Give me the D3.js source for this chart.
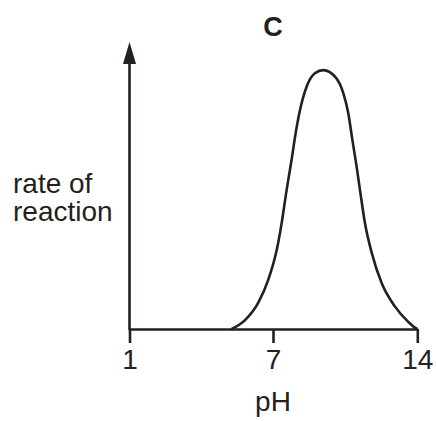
<!DOCTYPE html>
<meta charset="utf-8">
<script src="https://d3js.org/d3.v7.min.js"></script>
<style>
  body { margin: 0; background: #fff; }
  text { font-family: "Liberation Sans", Arial, sans-serif; fill: #231f20; }
</style>
<div class="chart"></div>
<script>
  const width = 436, height = 421;

  // pH ticks (axis is not linear: 7 sits in the middle)
  const tickValues = [1, 7, 14];
  const tickLabels = ["1", "7", "14"];

  // curve C (pH, rate in arbitrary units 0-10)
  const pH =   [5.27, 5.83, 6.38, 6.80, 7.18, 7.42, 7.66, 7.90, 8.10, 8.31, 8.63, 9.03, 9.44,
                10.01, 10.41, 10.65, 10.85, 11.06, 11.22, 11.46, 11.79, 12.27, 12.92, 13.56, 13.88, 14];
  const rate = [0, 0.31, 0.91, 1.71, 2.75, 3.69, 4.84, 5.89, 6.83, 7.63, 8.44, 8.91, 9.02,
                8.79, 8.22, 7.53, 6.59, 5.64, 4.84, 3.69, 2.65, 1.60, 0.78, 0.25, 0.05, 0];

  const ink = "#231f20";

  const svg = d3.select(".chart")
    .append("svg")
    .attr("width", width)
    .attr("height", height);

  const x = d3.scaleLinear()
    .domain(tickValues)
    .range([129.5, 273, 417.3]);

  const y = d3.scaleLinear()
    .domain([0, 10])
    .range([329, 42]);

  // title
  svg.append("text")
    .attr("x", x(7))
    .attr("y", 36)
    .attr("text-anchor", "middle")
    .style("font-size", "27px")
    .style("font-weight", "bold")
    .text("C");

  // x axis
  const xAxis = d3.axisBottom(x)
    .tickValues(tickValues)
    .tickFormat((d, i) => tickLabels[i])
    .tickSize(14)
    .tickSizeOuter(0)
    .tickPadding(6);

  const gx = svg.append("g")
    .attr("transform", `translate(0,${y(0)})`)
    .call(xAxis);
  gx.select(".domain").attr("stroke", ink).attr("stroke-width", 2.6);
  gx.selectAll(".tick line").attr("stroke", ink).attr("stroke-width", 2.6);
  gx.selectAll(".tick text")
    .attr("fill", ink)
    .style("font-family", '"Liberation Sans", Arial, sans-serif')
    .style("font-size", "28px");

  // y axis with arrow head
  svg.append("line")
    .attr("x1", x(1)).attr("x2", x(1))
    .attr("y1", y(0) + 1).attr("y2", y(10) + 20)
    .attr("stroke", ink)
    .attr("stroke-width", 2.6);

  svg.append("path")
    .attr("d", `M${x(1)},${y(10)} L${x(1) - 6.5},${y(10) + 22} L${x(1) + 6.5},${y(10) + 22} Z`)
    .attr("fill", ink);

  // axis labels
  const yl = svg.append("text")
    .attr("x", 13)
    .attr("y", 193)
    .style("font-size", "28px");
  yl.append("tspan").attr("x", 13).text("rate of");
  yl.append("tspan").attr("x", 13).attr("dy", 28).text("reaction");

  svg.append("text")
    .attr("x", x(7))
    .attr("y", 411)
    .attr("text-anchor", "middle")
    .style("font-size", "28px")
    .text("pH");

  // curve
  const pts = pH.map((d, i) => [d, rate[i]]);
  const line = d3.line()
    .x(d => x(d[0]))
    .y(d => y(d[1]))
    .curve(d3.curveMonotoneX);

  svg.append("path")
    .datum(pts)
    .attr("d", line)
    .attr("fill", "none")
    .attr("stroke", ink)
    .attr("stroke-width", 2.6);
</script>
